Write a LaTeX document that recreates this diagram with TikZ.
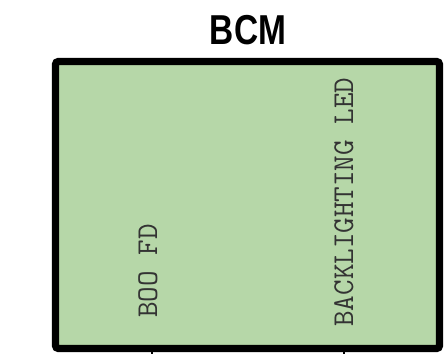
\documentclass[tikz,border=0pt]{standalone}
\usepackage{fontspec}
\setmainfont{Liberation Sans}
\usetikzlibrary{positioning}
\definecolor{BCMGreen}{HTML}{B6D7A8}
\definecolor{BCMText}{HTML}{333333}

\begin{document}
\begin{tikzpicture}[
        x=0.02cm,y=-0.02cm,
        module/.style={draw=black,line width=4pt,rounded corners=1.5pt,fill=BCMGreen},
        title/.style={font=\fontsize{23.8}{26}\selectfont\bfseries,xscale=0.8,inner sep=0pt,anchor=base},
        signal/.style={font=\fontsize{17.2}{19}\selectfont\ttfamily,text=BCMText,rotate=90,inner sep=0pt,anchor=base west},
        pin/.style={draw=black,line width=0.6pt}
      ]
      \useasboundingbox (0,0) rectangle (447,354);
      \draw[module] (55.5,61.5) rectangle (439.5,348.5);
      \node[title] (bcm) at (248,45) {BCM};
      \node[signal] (boofd) at (157,318) {BOO FD};
      \node[signal] (backlight) at (353,327) {BACKLIGHTING LED};

      \coordinate (pinA) at (152,352);
      \coordinate (pinB) at (344,352);
      \draw[pin] (pinA) -- ++(0,3);
      \draw[pin] (pinB) -- ++(0,3);
    \end{tikzpicture}
\end{document}
